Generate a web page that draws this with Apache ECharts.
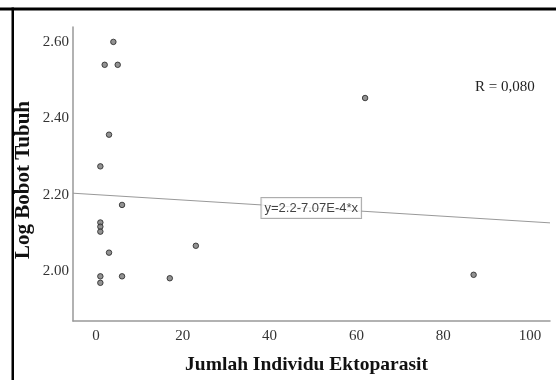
<!DOCTYPE html>
<html>
<head>
<meta charset="utf-8">
<script src="https://cdn.jsdelivr.net/npm/echarts@6/dist/echarts.min.js"></script>
<style>html,body{margin:0;padding:0;background:#fff}#c{width:556px;height:380px}</style>
</head>
<body>
<div id="c"></div>
<script>
// Observed data (x = Jumlah Individu Ektoparasit, y = Log Bobot Tubuh)
const xValues = [4, 2, 5, 3, 1, 6, 1, 1, 1, 3, 1, 1, 6, 17, 23, 62, 87];
const yValues = [2.60, 2.54, 2.54, 2.357, 2.274, 2.173, 2.127, 2.116, 2.103, 2.048, 1.986, 1.969, 1.986, 1.981, 2.066, 2.453, 1.990];
// Fit line endpoints (y = 2.2 - 7.07E-4 * x) across the axis span
const fitX = [-5.3, 104.6];
const fitY = [2.2037, 2.126];
const fitLabel = 'y=2.2-7.07E-4*x';
const fitLabelPos = [49.6, 2.165];
const rText = 'R = 0,080';
const xTitle = 'Jumlah Individu Ektoparasit';
const yTitle = 'Log Bobot Tubuh';
const xTicks = [0, 20, 40, 60, 80, 100];
const yTicks = [2.00, 2.20, 2.40, 2.60];

const chart = echarts.init(document.getElementById('c'), null, {renderer: 'canvas'});
const serif = '"Liberation Serif", "DejaVu Serif", serif';
const option = {
  animation: false,
  backgroundColor: '#fff',
  grid: {left: 73, top: 27, right: 6, bottom: 58, containLabel: false},
  xAxis: {
    type: 'value', min: -5.3, max: 104.6,
    name: xTitle,
    nameLocation: 'middle', nameGap: 34,
    nameTextStyle: {fontFamily: serif, fontWeight: 'bold', fontSize: 19.5, color: '#111', padding: [0, 10, 0, 0]},
    axisLine: {show: true, onZero: false, lineStyle: {color: '#999', width: 1.5}},
    axisTick: {show: false},
    splitLine: {show: false},
    axisLabel: {
      fontFamily: serif, fontSize: 15, color: '#333', margin: 8,
      customValues: xTicks,
      formatter: v => String(Math.round(v))
    }
  },
  yAxis: {
    type: 'value', min: 1.869, max: 2.639,
    axisLine: {show: true, onZero: false, lineStyle: {color: '#999', width: 1.5}},
    axisTick: {show: false},
    splitLine: {show: false},
    axisLabel: {
      fontFamily: serif, fontSize: 15, color: '#333', margin: 4,
      customValues: yTicks,
      formatter: v => v.toFixed(2)
    }
  },
  graphic: [
    {type: 'rect', shape: {x: 0, y: 7.5, width: 556, height: 3}, style: {fill: '#000'}, silent: true},
    {type: 'rect', shape: {x: 11.5, y: 7.5, width: 2.5, height: 380}, style: {fill: '#000'}, silent: true},
    {type: 'text', left: 475, top: 80, style: {text: rText, font: '15px ' + serif, fill: '#222'}},
    {type: 'text', x: 24, y: 180, rotation: Math.PI / 2,
     style: {text: yTitle, font: 'bold 21px ' + serif, fill: '#111', align: 'center', verticalAlign: 'middle'}}
  ],
  series: [
    {
      type: 'line',
      data: fitX.map((x, i) => [x, fitY[i]]),
      symbol: 'none',
      lineStyle: {color: '#999', width: 1},
      z: 1
    },
    {
      type: 'scatter',
      data: xValues.map((x, i) => [x, yValues[i]]),
      symbol: 'circle',
      symbolSize: 5.5,
      itemStyle: {color: '#777', borderColor: '#222', borderWidth: 1},
      z: 3
    },
    {
      type: 'scatter',
      data: [fitLabelPos],
      symbolSize: 0,
      z: 4,
      label: {
        show: true, position: 'inside', formatter: fitLabel,
        fontFamily: '"Liberation Sans", Arial, sans-serif', fontSize: 13, color: '#111',
        backgroundColor: '#fff', borderColor: '#999', borderWidth: 1,
        padding: [4, 3, 3, 3]
      }
    }
  ]
};
chart.setOption(option);
</script>
</body>
</html>
